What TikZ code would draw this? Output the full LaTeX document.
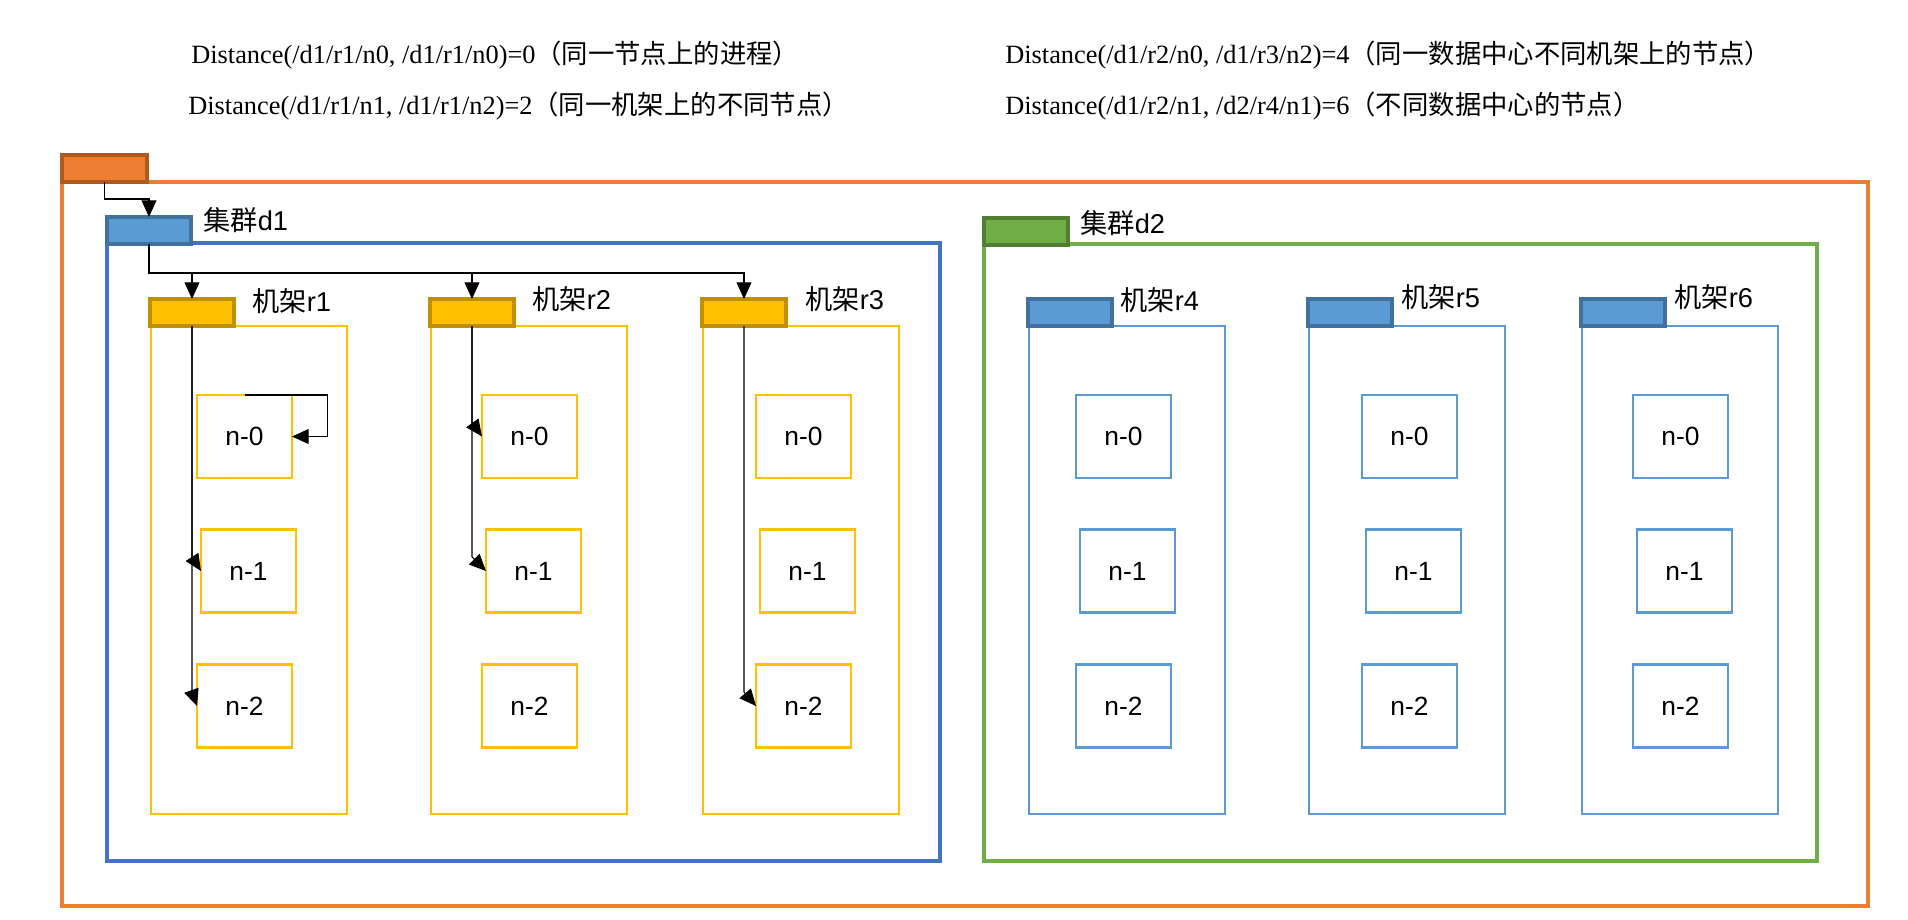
\documentclass[tikz,border=0pt]{standalone}
\usepackage{fontspec}
\setmainfont{Liberation Sans}
\newfontfamily\cjk{Noto Sans CJK SC}
\newfontfamily\tnr{Liberation Serif}
\usetikzlibrary{arrows.meta}

\definecolor{ofc}{HTML}{ED7D31}
\definecolor{ofcd}{HTML}{AE5A21}
\definecolor{dblue}{HTML}{4472C4}
\definecolor{lblue}{HTML}{5B9BD5}
\definecolor{dkblue}{HTML}{41719C}
\definecolor{grn}{HTML}{70AD47}
\definecolor{dkgrn}{HTML}{507E32}
\definecolor{yel}{HTML}{FFC000}
\definecolor{dkyel}{HTML}{BF9000}

\tikzset{
    arr/.style={-{Triangle[length=9.5pt,width=8.5pt]}, line width=0.6pt, black},
    tabbox/.style 2 args={fill=#1, draw=#2, line width=1.9pt, minimum width=1.68cm,
        minimum height=0.54cm, inner sep=0pt, outer sep=0pt, anchor=north west},
    nbox/.style={draw=#1, line width=1.6pt, minimum width=1.9cm, minimum height=1.66cm,
        inner sep=0pt, outer sep=0pt, font=\fontsize{15}{18}\selectfont},
    lbl/.style={anchor=base west, inner sep=0pt, font=\fontsize{15.5}{18}\selectfont},
    dist/.style={anchor=base west, inner sep=0pt, font=\fontsize{15}{18}\selectfont}
}

\begin{document}
\begin{tikzpicture}[x=0.02cm,y=-0.02cm]
    \useasboundingbox (0,0) rectangle (1908,920);
    % distance notes
    \node[dist] (dist0) at (191,63) {{\tnr Distance(/d1/r1/n0, /d1/r1/n0)=0}{\cjk （同一节点上的进程）}};
    \node[dist] (dist2) at (188,114) {{\tnr Distance(/d1/r1/n1, /d1/r1/n2)=2}{\cjk （同一机架上的不同节点）}};
    \node[dist] (dist4) at (1005,63) {{\tnr Distance(/d1/r2/n0, /d1/r3/n2)=4}{\cjk （同一数据中心不同机架上的节点）}};
    \node[dist] (dist6) at (1005,114) {{\tnr Distance(/d1/r2/n1, /d2/r4/n1)=6}{\cjk （不同数据中心的节点）}};
    % outer frame
    \draw[ofc, line width=1.8pt] (62,182) rectangle (1868,906);
    \node[tabbox={ofc}{ofcd}, minimum width=1.7cm] (dc) at (62,155) {};
    % cluster d1
    \draw[dblue, line width=1.8pt] (107,243) rectangle (940,861);
    \node[tabbox={lblue}{dkblue}] (d1tab) at (107,217) {};
    \node[lbl] (d1lbl) at (203,230) {{\cjk 集群}d1};
    % cluster d2
    \draw[grn, line width=1.8pt] (984,244) rectangle (1817,861);
    \node[tabbox={grn}{dkgrn}] (d2tab) at (984,218) {};
    \node[lbl] (d2lbl) at (1080,233) {{\cjk 集群}d2};
    % racks
    \foreach \rk/\rx/\lx/\ly/\fc/\bc in {r1/151/252/311/yel/dkyel, r2/431/532/309/yel/dkyel,
            r3/703/805/309/yel/dkyel, r4/1029/1120/310/lblue/dkblue,
            r5/1309/1401/307/lblue/dkblue, r6/1582/1674/307/lblue/dkblue}{
        \draw[\fc, line width=1.6pt] (\rx,326) rectangle +(196,488);
        \node[tabbox={\fc}{\bc}] (\rk tab) at (\rx-1,299) {};
        \node[lbl] (\rk lbl) at (\lx,\ly) {{\cjk 机架}\rk};
    }
    % nodes
    \foreach \rk/\nx/\fc in {r1/244.5/yel, r2/529.5/yel, r3/803.5/yel,
            r4/1123.5/lblue, r5/1409.5/lblue, r6/1680.5/lblue}{
        \node[nbox=\fc] (\rk n0) at (\nx,436.5) {n-0};
        \node[nbox=\fc] (\rk n1) at (\nx+4,571) {n-1};
        \node[nbox=\fc] (\rk n2) at (\nx,706) {n-2};
    }
    % connectors
    \draw[arr] (dc.south) -- ++(0,17) -| (d1tab.north);
    \draw[arr] (d1tab.south) -- ++(0,29) coordinate (bus) -| (r3tab.north);
    \draw[arr] (r1tab.north |- bus) -- (r1tab.north);
    \draw[arr] (r2tab.north |- bus) -- (r2tab.north);
    \draw[arr] (r1n0.north) -- ++(83,0) |- (r1n0.east);
    \draw[arr] (r1tab.south) -- ([yshift=8pt]r1tab.south |- r1n1.west) -- (r1n1.west);
    \draw[arr] (r1tab.south) -- ([yshift=8pt]r1tab.south |- r1n2.west) -- (r1n2.west);
    \draw[arr] (r2tab.south) -- ([yshift=8pt]r2tab.south |- r2n0.west) -- (r2n0.west);
    \draw[arr] (r2tab.south) -- ([yshift=8pt]r2tab.south |- r2n1.west) -- (r2n1.west);
    \draw[arr] (r3tab.south) -- ([yshift=8pt]r3tab.south |- r3n2.west) -- (r3n2.west);
\end{tikzpicture}
\end{document}
